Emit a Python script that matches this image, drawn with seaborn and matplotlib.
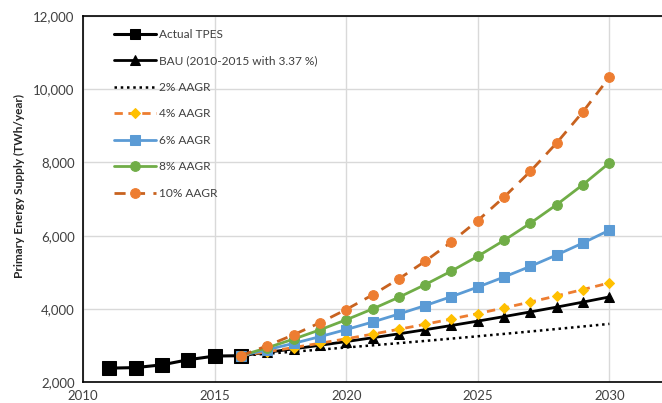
import pandas as pd
import matplotlib
matplotlib.use("Agg")
import matplotlib.pyplot as plt
import seaborn as sns

# Data
years_actual = [2011, 2012, 2013, 2014, 2015, 2016]
actual_tpes = [2380, 2395, 2470, 2610, 2710, 2720]

years_proj = list(range(2016, 2031))
bau = [2720, 2812, 2906, 3004, 3106, 3210, 3318, 3430, 3546, 3665, 3789, 3917, 4048, 4185, 4326]
aagr_2 = [2720, 2774, 2830, 2886, 2944, 3003, 3063, 3124, 3187, 3251, 3316, 3382, 3450, 3519, 3589]
aagr_4 = [2720, 2829, 2942, 3060, 3182, 3309, 3442, 3579, 3722, 3871, 4026, 4187, 4355, 4529, 4710]
aagr_6 = [2720, 2883, 3056, 3240, 3434, 3640, 3858, 4090, 4335, 4595, 4871, 5163, 5473, 5802, 6150]
aagr_8 = [2720, 2938, 3173, 3426, 3701, 3997, 4316, 4662, 5034, 5437, 5872, 6342, 6849, 7397, 7989]
aagr_10 = [2720, 2992, 3291, 3620, 3982, 4381, 4819, 5301, 5831, 6414, 7055, 7760, 8536, 9390, 10329]

x_ticks = [2010, 2015, 2020, 2025, 2030]
y_ticks = [2000, 4000, 6000, 8000, 10000, 12000]

sns.set_style("whitegrid")
plt.rcParams['font.family'] = ['Lato', 'DejaVu Sans']

fig = plt.figure(figsize=(6.62, 4.03), dpi=100)
ax = fig.add_axes([0.1254, 0.052, 0.8746, 0.908])

# actual first (bottom), projections drawn over it
sns.lineplot(x=years_actual, y=actual_tpes, ax=ax, color="black", linewidth=2.2,
             marker="s", markersize=10, markeredgecolor="black",
             label="Actual TPES", zorder=2)
sns.lineplot(x=years_proj, y=bau, ax=ax, color="black", linewidth=2,
             marker="^", markersize=7, markeredgecolor="black",
             label="BAU (2010-2015 with 3.37 %)", zorder=3)

sns.lineplot(x=years_proj, y=aagr_2, ax=ax, color="black", linewidth=1.8,
             label="2% AAGR", zorder=3)
ax.lines[-1].set_linestyle((0, (1, 1.5)))

sns.lineplot(x=years_proj, y=aagr_4, ax=ax, color="#ED7D31", linewidth=2,
             label="4% AAGR", zorder=4)
ax.lines[-1].set_linestyle((0, (3, 2)))
ax.lines[-1].set_marker("D")
ax.lines[-1].set_markersize(5)
ax.lines[-1].set_markerfacecolor("#FFC000")
ax.lines[-1].set_markeredgecolor("#FFC000")

sns.lineplot(x=years_proj, y=aagr_6, ax=ax, color="#5B9BD5", linewidth=2,
             marker="s", markersize=7, markeredgecolor="#5B9BD5", label="6% AAGR", zorder=5)
sns.lineplot(x=years_proj, y=aagr_8, ax=ax, color="#70AD47", linewidth=2,
             marker="o", markersize=7, markeredgecolor="#70AD47", label="8% AAGR", zorder=6)

sns.lineplot(x=years_proj, y=aagr_10, ax=ax, color="#C8621F", linewidth=2,
             label="10% AAGR", zorder=7)
ax.lines[-1].set_linestyle((0, (4, 3)))
ax.lines[-1].set_marker("o")
ax.lines[-1].set_markersize(7)
ax.lines[-1].set_markerfacecolor("#ED7D31")
ax.lines[-1].set_markeredgecolor("#ED7D31")

ax.set_xlim(2010, 2032)
ax.set_ylim(2000, 12000)
ax.set_xticks(x_ticks)
ax.set_yticks(y_ticks)
ax.yaxis.set_major_formatter(matplotlib.ticker.FuncFormatter(lambda v, p: f"{int(v):,}"))
ax.tick_params(axis="both", length=0, labelsize=9.5, colors="#404040", pad=6)
ax.grid(True, color="#D9D9D9", linewidth=1)
ax.set_axisbelow(True)

for side in ["left", "bottom", "top"]:
    ax.spines[side].set_color("black")
    ax.spines[side].set_linewidth(1.2)
ax.spines["right"].set_visible(False)

ax.set_ylabel("Primary Energy Supply (TWh/year)", fontsize=8.6, fontweight="bold")
ax.yaxis.set_label_coords(-0.1, 0.535)
ax.set_xlabel("")

handles, labels = ax.get_legend_handles_labels()
order = ["Actual TPES", "BAU (2010-2015 with 3.37 %)", "2% AAGR", "4% AAGR",
         "6% AAGR", "8% AAGR", "10% AAGR"]
hmap = dict(zip(labels, handles))
leg = ax.legend([hmap[l] for l in order], order, loc="upper left", frameon=False,
                fontsize=8.6, handlelength=3.5, labelspacing=1.3, borderaxespad=0.5,
                bbox_to_anchor=(0.035, 0.995), handletextpad=0.3, labelcolor="#404040")
leg.legend_handles[0].set_markersize(7)

fig.savefig("out.png", dpi=100)
